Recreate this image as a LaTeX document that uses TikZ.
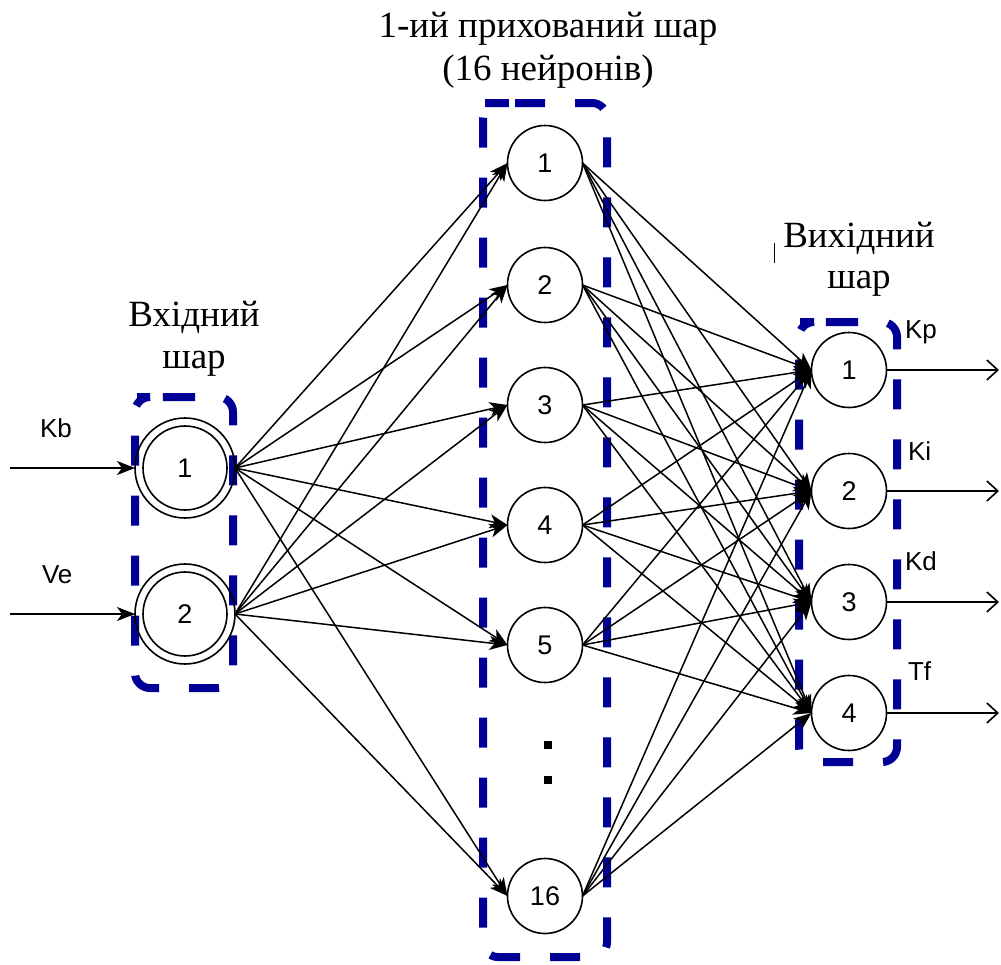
\documentclass[tikz,border=0pt]{standalone}
\usepackage{fontspec}
\setmainfont{Liberation Serif}
\newfontfamily\sansface{Liberation Sans}
\usetikzlibrary{arrows.meta}
\definecolor{boxblue}{RGB}{0,0,150}
\newcommand\nnfont{\sansface\fontsize{27}{27}\selectfont}
\newcommand\sigfont{\sansface\fontsize{26}{26}\selectfont}
\newcommand\capfont{\fontsize{37}{37}\selectfont}

\begin{document}
\begin{tikzpicture}[x=1pt,y=-1pt,
  every node/.style={inner sep=0pt, outer sep=0pt},
  neuron/.style={circle, draw=black, line width=1.6pt, minimum size=75pt, font=\nnfont},
  inneuron/.style={neuron, minimum size=100pt},
  layerbox/.style={draw=boxblue, line width=8pt, dash pattern=on 30pt off 30pt, rounded corners=15pt},
  link/.style={line width=1.5pt, -{Stealth[length=18pt,width=14pt,inset=5pt]}},
  outlink/.style={line width=1.6pt, -{Straight Barb[length=11pt,width=20pt]}},
  sig/.style={font=\sigfont, anchor=base west},
  caption/.style={font=\capfont, anchor=base}]
\useasboundingbox (0,0) rectangle (1001,964);

% dashed layer frames
\draw[layerbox] (150,397) -- (233,397) -- (233,688) -- (135,688) -- (135,397) -- cycle;
\draw[layerbox] (500,103) -- (607,103) -- (607,957) -- (483,957) -- (483,103) -- cycle;
\draw[layerbox] (813,322) -- (897,322) -- (897,762) -- (799,762) -- (799,322) -- cycle;

% layer captions
\node[caption] (cap1a) at (548,37) {1-ий прихований шар};
\node[caption] (cap1b) at (548,80) {(16 нейронів)};
\node[caption] (cap0a) at (194,326) {Вхідний};
\node[caption] (cap0b) at (194,368) {шар};
\node[caption] (cap2a) at (859,247) {Вихідний};
\node[caption] (cap2b) at (859,288) {шар};
\draw[line width=1pt] (774,243) -- (774,263);

% input layer (double-ringed neurons)
\node[inneuron] (i1) at (185,468) {1};
\node[inneuron] (i2) at (185,614) {2};
\draw[line width=1.6pt] (i1.center) circle[radius=42pt];
\draw[line width=1.6pt] (i2.center) circle[radius=42pt];

% hidden layer
\foreach \n/\y in {1/163,2/285,3/405,4/525,5/645,16/896}
  \node[neuron] (h\n) at (545,\y) {\n};
\fill (544,741) rectangle (552,749);
\fill (544,776) rectangle (552,784);

% output layer
\foreach \n/\y in {1/370,2/491,3/602,4/713}
  \node[neuron] (o\n) at (849,\y) {\n};

% connections
\foreach \i in {1,2}
  \foreach \h in {1,2,3,4,5,16}
    \draw[link] (i\i.east) -- (h\h.west);
\foreach \h in {1,2,3,4,5,16}
  \foreach \o in {1,2,3,4}
    \draw[link] (h\h.east) -- (o\o.west);

% inputs
\coordinate (inKb) at (10,468);
\coordinate (inVe) at (10,614);
\draw[link] (inKb) -- (i1.west);
\draw[link] (inVe) -- (i2.west);
\node[sig] (lKb) at (40,437) {Kb};
\node[sig] (lVe) at (42,583) {Ve};

% outputs
\foreach \o/\y in {1/370,2/491,3/602,4/713}
  \coordinate (out\o) at (999,\y);
\foreach \o in {1,2,3,4}
  \draw[outlink] (o\o.east) -- (out\o);
\node[sig] (lKp) at (905,338) {Kp};
\node[sig] (lKi) at (908,460) {Ki};
\node[sig] (lKd) at (905,570) {Kd};
\node[sig] (lTf) at (908,680) {Tf};
\end{tikzpicture}
\end{document}
